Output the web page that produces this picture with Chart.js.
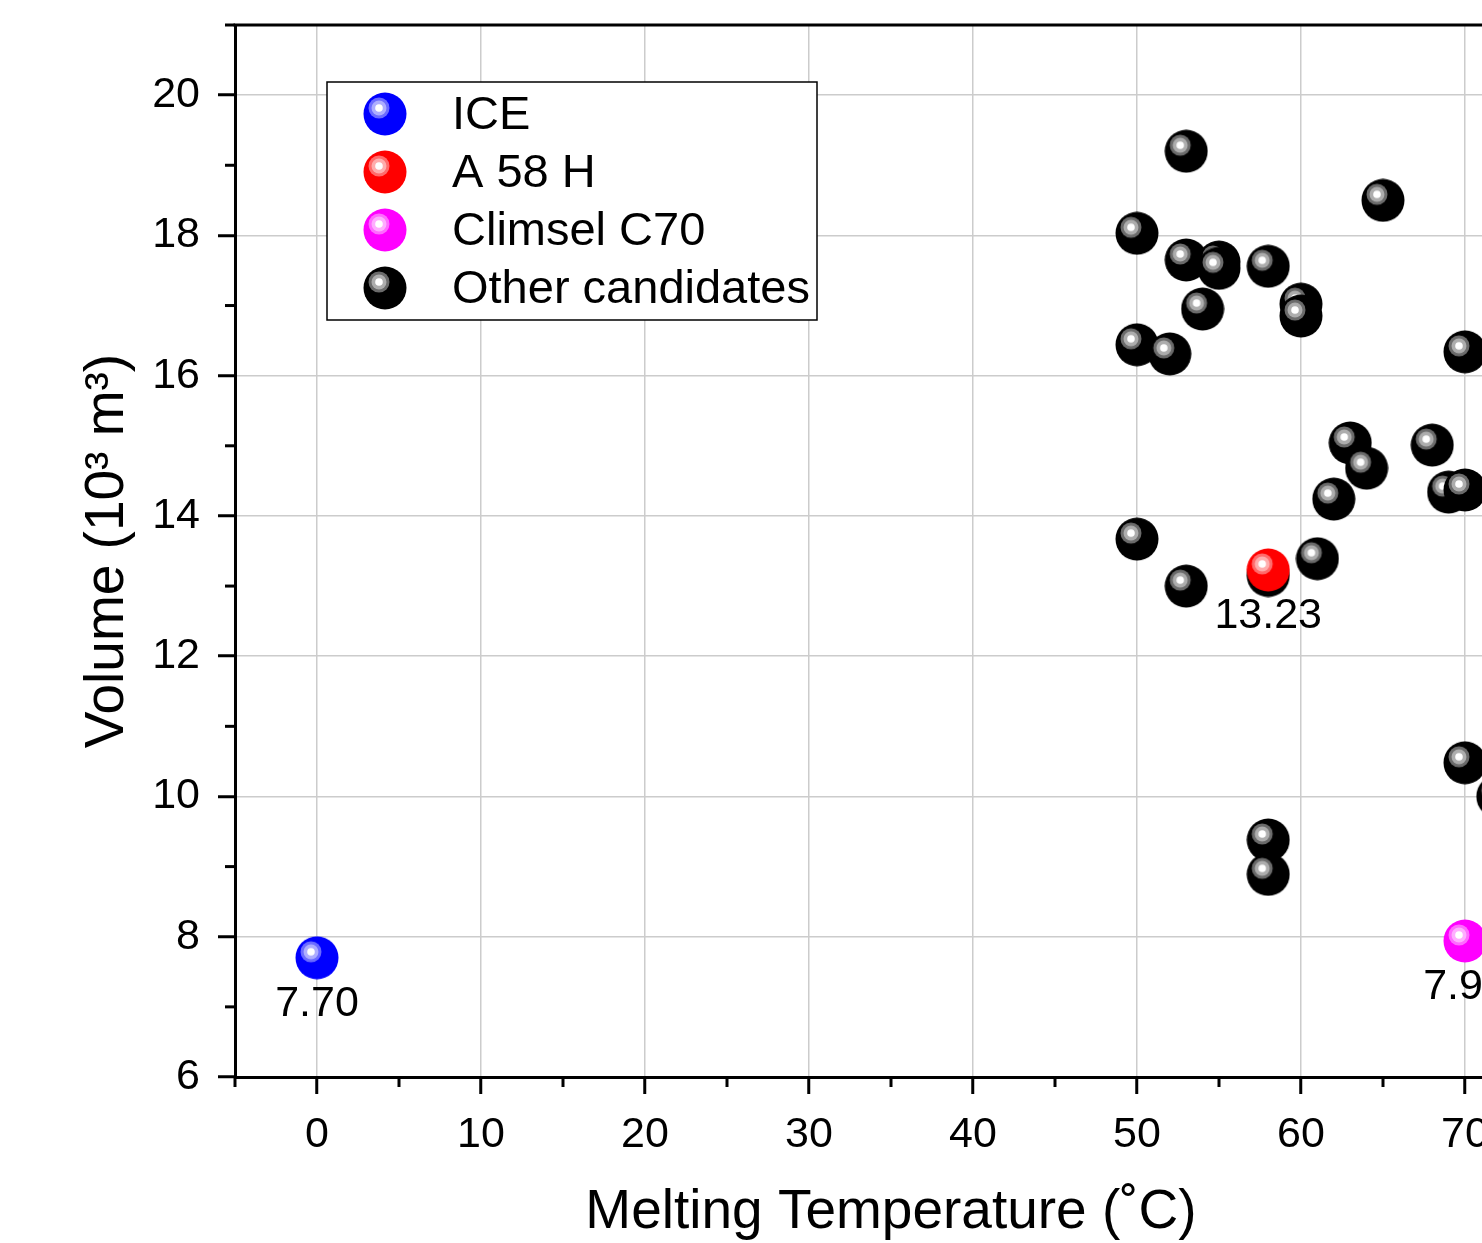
<!DOCTYPE html>
<html>
<head>
<meta charset="utf-8">
<script src="https://cdn.jsdelivr.net/npm/chart.js@4.4.0/dist/chart.umd.min.js"></script>
<style>
  html, body { margin: 0; padding: 0; background: #fff; overflow: hidden; }
  #wrap { position: relative; width: 1482px; height: 1243px; overflow: hidden; }
  #wrap canvas { position: absolute; left: 0; top: 0; }
</style>
</head>
<body>
<div id="wrap"><canvas id="volumeChart" width="1620" height="1243"></canvas></div>
<script>
// series names (legend order)
const seriesNames = ["ICE", "A 58 H", "Climsel C70", "Other candidates"];
const seriesColors = ["#0000ff", "#ff0000", "#ff00ff", "#000000"];

// highlighted materials
const iceTemp = [0];
const iceVolume = [7.70];
const a58Temp = [58];
const a58Volume = [13.23];
const climselTemp = [70];
const climselVolume = [7.94];

// other candidate materials
const otherTemp = [53, 65, 50, 53, 55, 55, 58, 54, 60, 60, 50, 52, 70, 63, 64, 68, 69, 70, 62, 50, 61, 53, 58, 70, 72, 58, 58];
const otherVolume = [19.2, 18.5, 18.03, 17.65, 17.62, 17.53, 17.56, 16.95, 17.02, 16.85, 16.44, 16.31, 16.34, 15.04, 14.68, 15.01, 14.34, 14.37, 14.24, 13.67, 13.39, 13.0, 13.15, 10.48, 10.0, 9.38, 8.89];

// axis ranges
const xMin = -5, xMax = 75;
const yMin = 6, yMax = 21;

const FONT = "'Liberation Sans', Arial, sans-serif";

function toPoints(xs, ys) {
    return xs.map((x, i) => ({ x: x, y: ys[i] }));
}

function mix(hex, t) {
    const n = parseInt(hex.slice(1), 16);
    const r = (n >> 16) & 255, g = (n >> 8) & 255, b = n & 255;
    const m = c => Math.round(c + (255 - c) * t);
    return "rgb(" + m(r) + "," + m(g) + "," + m(b) + ")";
}

// shaded ball marker
function makeSphere(color) {
    const c = document.createElement("canvas");
    c.width = 44;
    c.height = 44;
    const g = c.getContext("2d");
    g.fillStyle = color;
    g.beginPath();
    g.arc(22, 22, 21.5, 0, Math.PI * 2);
    g.fill();
    const hx = 16, hy = 16;
    [[10.5, 0.42], [7.5, 0.68], [3.8, 1]].forEach(([r, t]) => {
        g.fillStyle = mix(color, t);
        g.beginPath();
        g.arc(hx, hy, r, 0, Math.PI * 2);
        g.fill();
    });
    return c;
}

const spheres = seriesColors.map(makeSphere);

const frameAndTicks = {
    id: "frameAndTicks",
    afterDraw(chart) {
        const { ctx, chartArea } = chart;
        const xs = chart.scales.x, ys = chart.scales.y;
        ctx.save();
        ctx.strokeStyle = "#000";
        ctx.lineWidth = 3;
        ctx.beginPath();
        ctx.moveTo(chartArea.left - 1.5, chartArea.top);
        ctx.lineTo(chartArea.right + 1.5, chartArea.top);
        ctx.moveTo(chartArea.right, chartArea.top);
        ctx.lineTo(chartArea.right, chartArea.bottom);
        ctx.stroke();
        // minor ticks
        xs.ticks.forEach(t => {
            if (t.value % 10 !== 0) {
                const px = xs.getPixelForValue(t.value);
                ctx.beginPath();
                ctx.moveTo(px, chartArea.bottom);
                ctx.lineTo(px, chartArea.bottom + 10);
                ctx.stroke();
            }
        });
        ys.ticks.forEach(t => {
            if (t.value % 2 !== 0) {
                const py = ys.getPixelForValue(t.value);
                ctx.beginPath();
                ctx.moveTo(chartArea.left, py);
                ctx.lineTo(chartArea.left - 10, py);
                ctx.stroke();
            }
        });
        ctx.restore();
    }
};

const valueLabels = {
    id: "valueLabels",
    afterDatasetsDraw(chart) {
        const { ctx } = chart;
        ctx.save();
        ctx.font = "43px " + FONT;
        ctx.fillStyle = "#000";
        ctx.textAlign = "center";
        ctx.textBaseline = "middle";
        chart.data.datasets.forEach((ds, i) => {
            if (!ds.showValue) return;
            chart.getDatasetMeta(i).data.forEach((el, j) => {
                ctx.fillText(ds.data[j].y.toFixed(2), el.x, el.y + 46);
            });
        });
        ctx.restore();
    }
};

const boxLegend = {
    id: "boxLegend",
    afterDraw(chart) {
        const { ctx, chartArea } = chart;
        const left = chartArea.left + 92, top = chartArea.top + 57;
        const w = 490, h = 238;
        ctx.save();
        ctx.fillStyle = "#fff";
        ctx.fillRect(left, top, w, h);
        ctx.strokeStyle = "#000";
        ctx.lineWidth = 1.5;
        ctx.strokeRect(left, top, w, h);
        ctx.font = "47px " + FONT;
        ctx.fillStyle = "#000";
        ctx.textBaseline = "middle";
        chart.data.datasets.forEach((ds, i) => {
            const cy = top + 32 + i * 58;
            ctx.drawImage(spheres[i], left + 58 - 22, cy - 22);
            ctx.fillText(ds.label, left + 125, cy + 2);
        });
        ctx.restore();
    }
};

const xValues = [iceTemp, a58Temp, climselTemp, otherTemp];
const yValues = [iceVolume, a58Volume, climselVolume, otherVolume];

const datasets = seriesNames.map((name, i) => ({
    label: name,
    data: toPoints(xValues[i], yValues[i]),
    pointStyle: spheres[i],
    pointRadius: 21,
    showValue: i < 3
}));

new Chart(document.getElementById("volumeChart").getContext("2d"), {
    type: "scatter",
    data: { datasets: datasets },
    plugins: [frameAndTicks, valueLabels, boxLegend],
    options: {
        responsive: false,
        animation: false,
        layout: { padding: { left: 0, top: 25, right: 73, bottom: 0 } },
        plugins: {
            legend: { display: false },
            tooltip: { enabled: false }
        },
        scales: {
            x: {
                type: "linear",
                min: xMin,
                max: xMax,
                afterFit(scale) { scale.height = 166; },
                border: { display: true, color: "#000", width: 3 },
                grid: {
                    color: c => (c.tick && c.tick.value % 10 === 0 && c.tick.value !== xMin) ? "#cccccc" : "rgba(0,0,0,0)",
                    lineWidth: 1.5,
                    tickColor: c => (c.tick && c.tick.value % 10 === 0) ? "#000" : "rgba(0,0,0,0)",
                    tickWidth: 3,
                    tickLength: 17
                },
                ticks: {
                    stepSize: 5,
                    autoSkip: false,
                    maxRotation: 0,
                    padding: 15,
                    color: "#000",
                    font: { family: FONT, size: 43 },
                    callback: v => (v % 10 === 0 ? String(v) : "")
                },
                title: {
                    display: true,
                    text: "Melting Temperature (˚C)",
                    color: "#000",
                    font: { family: FONT, size: 55, lineHeight: 1.1 },
                    padding: { top: 0, bottom: 0 }
                }
            },
            y: {
                type: "linear",
                min: yMin,
                max: yMax,
                afterFit(scale) { scale.width = 235; },
                border: { display: true, color: "#000", width: 3 },
                grid: {
                    color: c => (c.tick && c.tick.value % 2 === 0) ? "#cccccc" : "rgba(0,0,0,0)",
                    lineWidth: 1.5,
                    tickColor: c => (c.tick && c.tick.value % 2 === 0) ? "#000" : "rgba(0,0,0,0)",
                    tickWidth: 3,
                    tickLength: 17
                },
                ticks: {
                    stepSize: 1,
                    autoSkip: false,
                    padding: 18,
                    color: "#000",
                    font: { family: FONT, size: 43, lineHeight: 0.2 },
                    callback: v => (v % 2 === 0 ? String(v) : "")
                },
                title: {
                    display: true,
                    text: "Volume (10³ m³)",
                    color: "#000",
                    font: { family: FONT, size: 55, lineHeight: 1.1 },
                    padding: { top: 78, bottom: 0 }
                }
            }
        }
    }
});
</script>
</body>
</html>
